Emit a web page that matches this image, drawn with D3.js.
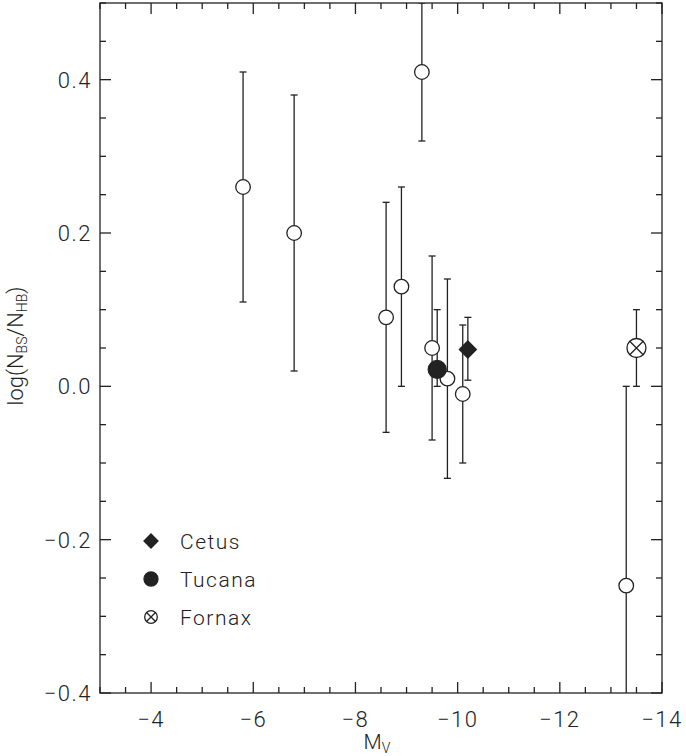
<!DOCTYPE html>
<html>
<head>
<meta charset="utf-8">
<script src="https://cdn.jsdelivr.net/npm/d3@7"></script>
<style>
  body { margin: 0; background: #fff; }
  text { font-family: Roboto, "Liberation Sans", "DejaVu Sans", sans-serif; font-weight: 300; fill: #222; }
</style>
</head>
<body>
<script>
// open circles: the comparison sample
const mvOpen   = [-5.8, -6.8, -9.3, -8.6, -8.9, -9.5, -9.8, -10.1, -13.3]
const yOpen    = [0.26, 0.20, 0.41, 0.09, 0.13, 0.05, 0.01, -0.01, -0.26]
const loOpen   = [0.11, 0.02, 0.32, -0.06, 0.00, -0.07, -0.12, -0.10, -0.52]
const hiOpen   = [0.41, 0.38, 0.50, 0.24, 0.26, 0.17, 0.14, 0.08, 0.00]

// the three named galaxies
const names    = ["Cetus", "Tucana", "Fornax"]
const mvNamed  = [-10.2, -9.6, -13.5]
const yNamed   = [0.048, 0.022, 0.05]
const loNamed  = [0.008, 0.00, 0.00]
const hiNamed  = [0.09, 0.10, 0.10]

const xTicks = [-4, -6, -8, -10, -12, -14]
const yTicks = [-0.4, -0.2, 0.0, 0.2, 0.4]

const width = 686, height = 756
const margin = ({top: 3, right: 24, bottom: 63, left: 100})
const ink = "#222"

const svg = d3.select("body").append("svg")
    .attr("width", width).attr("height", height)

const x = d3.scaleLinear().domain([-3, -14]).range([margin.left, width - margin.right])
const y = d3.scaleLinear().domain([-0.4, 0.5]).range([height - margin.bottom, margin.top])

svg.append("defs").append("clipPath").attr("id", "plot")
  .append("rect")
    .attr("x", margin.left).attr("y", margin.top)
    .attr("width", x.range()[1] - margin.left)
    .attr("height", y.range()[0] - margin.top)

/* ---- axes, IDL style: ticks inward on all four sides ---- */
const xMinor = d3.range(-3, -14.01, -0.5)
const yMinor = d3.range(-0.4, 0.501, 0.05)

function tickLen(v, step) { return Math.abs(v / step - Math.round(v / step)) < 1e-6 ? 11 : 6 }

const axes = svg.append("g").attr("stroke", ink).attr("stroke-width", 1.3)

axes.selectAll(".xb").data(xMinor).join("line")
    .attr("x1", d => x(d)).attr("x2", d => x(d))
    .attr("y1", y(-0.4)).attr("y2", d => y(-0.4) - tickLen(d, 2))
axes.selectAll(".xt").data(xMinor).join("line")
    .attr("x1", d => x(d)).attr("x2", d => x(d))
    .attr("y1", y(0.5)).attr("y2", d => y(0.5) + tickLen(d, 2))
axes.selectAll(".yl").data(yMinor).join("line")
    .attr("y1", d => y(d)).attr("y2", d => y(d))
    .attr("x1", x(-3)).attr("x2", d => x(-3) + tickLen(d, 0.2))
axes.selectAll(".yr").data(yMinor).join("line")
    .attr("y1", d => y(d)).attr("y2", d => y(d))
    .attr("x1", x(-14)).attr("x2", d => x(-14) - tickLen(d, 0.2))

axes.append("rect")
    .attr("x", x(-3)).attr("y", y(0.5))
    .attr("width", x(-14) - x(-3)).attr("height", y(-0.4) - y(0.5))
    .attr("fill", "none")

svg.append("g").selectAll("text").data(xTicks).join("text")
    .attr("x", d => x(d)).attr("y", y(-0.4) + 34)
    .attr("text-anchor", "middle")
    .attr("font-size", 22).attr("letter-spacing", 1.5)
    .text(d3.format("d"))

svg.append("g").selectAll("text").data(yTicks).join("text")
    .attr("x", x(-3) - 8).attr("y", d => y(d) + 8)
    .attr("text-anchor", "end")
    .attr("font-size", 22).attr("letter-spacing", 1.5)
    .text(d3.format(".1f"))

const xl = svg.append("text")
    .attr("x", 377).attr("y", 749)
    .attr("text-anchor", "middle").attr("font-size", 21)
xl.append("tspan").text("M")
xl.append("tspan").attr("font-size", 14).attr("dy", 4).text("V")

const yl = svg.append("text")
    .attr("transform", `translate(23,${y(0.05) - 2}) rotate(-90)`)
    .attr("text-anchor", "middle").attr("font-size", 22)
yl.append("tspan").text("log(N")
yl.append("tspan").attr("font-size", 14).attr("dy", 4).text("BS")
yl.append("tspan").attr("dy", -4).text("/N")
yl.append("tspan").attr("font-size", 14).attr("dy", 4).text("HB")
yl.append("tspan").attr("dy", -4).text(")")

/* ---- error bars ---- */
const bars = mvOpen.map((m, i) => ({m, lo: loOpen[i], hi: hiOpen[i]}))
    .concat(mvNamed.map((m, i) => ({m, lo: loNamed[i], hi: hiNamed[i]})))

const eb = svg.append("g").attr("clip-path", "url(#plot)")
    .attr("stroke", ink).attr("stroke-width", 1.3)
eb.selectAll(".v").data(bars).join("line")
    .attr("x1", d => x(d.m)).attr("x2", d => x(d.m))
    .attr("y1", d => y(d.lo)).attr("y2", d => y(d.hi))
eb.selectAll(".lo").data(bars).join("line")
    .attr("x1", d => x(d.m) - 3.5).attr("x2", d => x(d.m) + 3.5)
    .attr("y1", d => y(d.lo)).attr("y2", d => y(d.lo))
eb.selectAll(".hi").data(bars).join("line")
    .attr("x1", d => x(d.m) - 3.5).attr("x2", d => x(d.m) + 3.5)
    .attr("y1", d => y(d.hi)).attr("y2", d => y(d.hi))

/* ---- points ---- */
const pts = svg.append("g").attr("stroke", ink).attr("stroke-width", 1.3)

pts.selectAll("circle").data(mvOpen).join("circle")
    .attr("cx", d => x(d)).attr("cy", (d, i) => y(yOpen[i]))
    .attr("r", 7.3).attr("fill", "#fff")

function diamond(g, cx, cy, s) {
  g.append("path")
    .attr("d", `M${cx},${cy - s}L${cx + s},${cy}L${cx},${cy + s}L${cx - s},${cy}Z`)
    .attr("fill", ink).attr("stroke", ink)
}
function crossCircle(g, cx, cy, r) {
  g.append("circle").attr("cx", cx).attr("cy", cy).attr("r", r).attr("fill", "#fff")
  const k = r * Math.SQRT1_2
  g.append("path")
    .attr("d", `M${cx - k},${cy - k}L${cx + k},${cy + k}M${cx - k},${cy + k}L${cx + k},${cy - k}`)
}

diamond(pts, x(mvNamed[0]), y(yNamed[0]), 8.5)
pts.append("circle").attr("cx", x(mvNamed[1])).attr("cy", y(yNamed[1]))
    .attr("r", 9).attr("fill", ink)
crossCircle(pts, x(mvNamed[2]), y(yNamed[2]), 9.5)

/* ---- legend ---- */
const legY = [541, 579, 617]
const leg = svg.append("g").attr("stroke", ink).attr("stroke-width", 1.3)
diamond(leg, 151, legY[0], 7)
leg.append("circle").attr("cx", 151).attr("cy", legY[1]).attr("r", 7).attr("fill", ink)
crossCircle(leg, 151, legY[2], 6.3)

svg.append("g").selectAll("text").data(names).join("text")
    .attr("x", 180).attr("y", (d, i) => legY[i] + 8)
    .attr("font-size", 21).attr("letter-spacing", 1.5)
    .text(d => d)
</script>
</body>
</html>
